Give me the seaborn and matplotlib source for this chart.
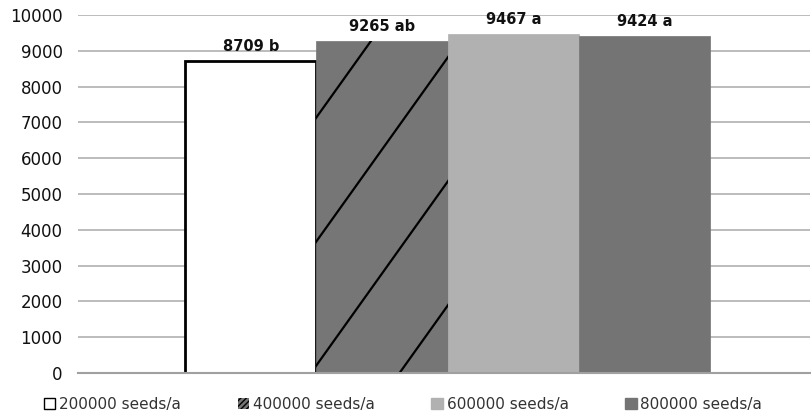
import numpy as np
import pandas as pd
import matplotlib
matplotlib.use("Agg")
import matplotlib.pyplot as plt
from matplotlib.patches import Patch
import seaborn as sns

# --- DATA ---
densities = ['200000 seeds/a', '400000 seeds/a', '600000 seeds/a', '800000 seeds/a']
yields = [8709, 9265, 9467, 9424]
letters = ['b', 'ab', 'a', 'a']
y_ticks = list(range(0, 10001, 1000))

# --- STYLE ---
face_colors = ['#ffffff', '#767676', '#b1b1b1', '#747474']
edge_colors = ['#000000', '#767676', '#b1b1b1', '#747474']
grid_color = '#b0b0b0'
hatch_slope = 1.4      # px rise per px run
hatch_spacing = 124    # px between lines, along the bar edge
hatch_offset = 76      # px below bar top for the first line

sns.set_theme(style='white')
plt.rcParams['font.family'] = ['DejaVu Sans']

df = pd.DataFrame({'group': ['all'] * len(densities),
                   'density': densities,
                   'yield': yields})

W, H = 811, 417
fig = plt.figure(figsize=(W / 100, H / 100), dpi=100)
ax = fig.add_axes([78 / W, 1 - 373 / H, (810 - 78) / W, (373 - 15) / H])

sns.barplot(data=df, x='group', y='yield', hue='density', hue_order=densities,
            palette=face_colors, width=0.717, gap=0, legend=False,
            saturation=1, errorbar=None, ax=ax)

ax.set_xlim(-0.505, 0.495)
ax.set_ylim(0, 10000)
ax.set_yticks(y_ticks)
ax.set_yticklabels([str(t) for t in y_ticks], fontsize=12, color='#111111')
ax.set_xticks([])
ax.set_xlabel('')
ax.set_ylabel('')
ax.tick_params(axis='y', length=0, pad=11)
ax.yaxis.grid(True, color=grid_color, linewidth=1.2)
ax.set_axisbelow(True)
for side in ['left', 'top', 'right']:
    ax.spines[side].set_visible(False)
ax.spines['bottom'].set_color('#a0a0a0')
ax.spines['bottom'].set_linewidth(1.5)

bars = [c[0] for c in ax.containers]
for bar, ec in zip(bars, edge_colors):
    bar.set_edgecolor(ec)
    bar.set_linewidth(2.0 if ec == '#000000' else 0.5)

# labels with significance letters
for bar, val, let in zip(bars, yields, letters):
    ax.annotate(f'{val} {let}', (bar.get_x() + bar.get_width() / 2, val),
                xytext=(0, 5), textcoords='offset points',
                ha='center', va='bottom', fontsize=10.5, fontweight='bold',
                color='#111111')

# sparse diagonal hatch on the 400000 bar
hb = bars[1]
to_px = ax.transData
(lx, by) = to_px.transform((hb.get_x(), 0))
(rx, ty) = to_px.transform((hb.get_x() + hb.get_width(), hb.get_height()))
run = (rx - lx) + 10
for k in range(6):
    y0 = ty - hatch_offset - k * hatch_spacing
    pts = np.array([[lx - 5, y0 - 5 * hatch_slope], [lx - 5 + run, y0 + (run - 5) * hatch_slope]])
    data_pts = to_px.inverted().transform(pts)
    ln, = ax.plot(data_pts[:, 0], data_pts[:, 1], color='black', linewidth=1.6,
                  solid_capstyle='butt', zorder=hb.get_zorder() + 0.1)
    ln.set_clip_path(hb)

handles = [Patch(facecolor=face_colors[0], edgecolor='black', linewidth=1.0),
           Patch(facecolor=face_colors[1], edgecolor='black', hatch='//////', linewidth=0),
           Patch(facecolor=face_colors[2], edgecolor=face_colors[2]),
           Patch(facecolor=face_colors[3], edgecolor=face_colors[3])]
leg = fig.legend(handles, densities, loc='center', bbox_to_anchor=(0.497, 0.03),
                 ncol=4, frameon=False, fontsize=11, handlelength=0.75,
                 handleheight=0.75, handletextpad=0.25, columnspacing=3.7)
for t in leg.get_texts():
    t.set_color('#333333')

fig.savefig('out.png', dpi=100)
